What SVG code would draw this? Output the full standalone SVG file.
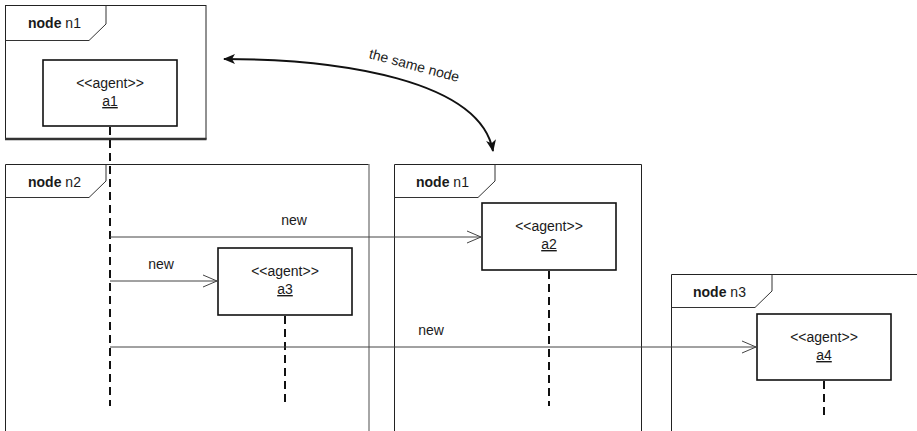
<svg xmlns="http://www.w3.org/2000/svg" width="917" height="431" viewBox="0 0 917 431">
<defs>
<style>
text{font-family:"Liberation Sans",Arial,sans-serif;font-size:14px;fill:#1a1a1a}
.b{font-weight:bold}
.c{text-anchor:middle}
.frame{fill:none;stroke:#222;stroke-width:1}
.tab{fill:none;stroke:#333;stroke-width:1}
.agent{fill:#fff;stroke:#111;stroke-width:1.6}
.life{stroke:#111;stroke-width:2;stroke-dasharray:8 5;fill:none}
.msg{stroke:#444;stroke-width:1;fill:none}
.head{stroke:#444;stroke-width:1;fill:none}
</style>
<marker id="ah" viewBox="0 0 12 10" refX="11" refY="5" markerWidth="12" markerHeight="10" markerUnits="userSpaceOnUse" orient="auto-start-reverse">
<path d="M0,0 L12,5 L0,10 L3,5 Z" fill="#111"/>
</marker>
</defs>

<g id="node-n1-top">
<rect class="frame" x="5.5" y="5.5" width="200.5" height="133.5"/>
<line x1="5" y1="139" x2="206.5" y2="139" stroke="#333" stroke-width="2.5"/>
<path class="tab" d="M5.5,40.5 H89 L106,24 V5.5"/>
<text x="28" y="28"><tspan class="b">node</tspan> n1</text>
</g>

<g id="node-n2">
<path class="frame" d="M5.5,431 V164.5 H369"/>
<line x1="369" y1="164" x2="369" y2="431" stroke="#888" stroke-width="1.5"/>
<path class="tab" d="M5.5,197.5 H89 L106,181 V164.5"/>
<text x="28" y="187"><tspan class="b">node</tspan> n2</text>
</g>

<g id="node-n1-bottom">
<path class="frame" d="M394.5,431 V164.5 H641.5 V431"/>
<path class="tab" d="M394.5,197.5 H478 L495,181 V164.5"/>
<text x="416" y="187"><tspan class="b">node</tspan> n1</text>
</g>

<g id="node-n3">
<path class="frame" d="M671.5,431 V274.5 H917"/>
<path class="tab" d="M671.5,307.5 H755 L772,291 V274.5"/>
<text x="693" y="297"><tspan class="b">node</tspan> n3</text>
</g>

<g id="agent-a1">
<rect class="agent" x="43" y="60" width="134" height="66"/>
<text class="c" x="110" y="88">&lt;&lt;agent&gt;&gt;</text>
<text class="c" x="110" y="106" text-decoration="underline">a1</text>
</g>

<g id="agent-a2">
<rect class="agent" x="482" y="203" width="134" height="67"/>
<text class="c" x="549" y="231">&lt;&lt;agent&gt;&gt;</text>
<text class="c" x="549" y="249" text-decoration="underline">a2</text>
</g>

<g id="agent-a3">
<rect class="agent" x="218" y="248" width="134" height="67"/>
<text class="c" x="285" y="276">&lt;&lt;agent&gt;&gt;</text>
<text class="c" x="285" y="294" text-decoration="underline">a3</text>
</g>

<g id="agent-a4">
<rect class="agent" x="757" y="314" width="134" height="66"/>
<text class="c" x="824" y="342">&lt;&lt;agent&gt;&gt;</text>
<text class="c" x="824" y="360" text-decoration="underline">a4</text>
</g>

<g id="connectors">
<line class="life" x1="110" y1="127" x2="110" y2="406"/>
<line class="life" x1="285" y1="316" x2="285" y2="406"/>
<line class="life" x1="549" y1="271" x2="549" y2="406"/>
<line class="life" x1="824" y1="381" x2="824" y2="419"/>

<line class="msg" x1="110" y1="237" x2="481" y2="237"/>
<path class="head" d="M467,231 L481,237 L467,243"/>
<text class="c" x="294" y="225">new</text>

<line class="msg" x1="110" y1="281" x2="217" y2="281"/>
<path class="head" d="M203,275 L217,281 L203,287"/>
<text class="c" x="161" y="269">new</text>

<line class="msg" x1="110" y1="347" x2="756" y2="347"/>
<path class="head" d="M742,341 L756,347 L742,353"/>
<text class="c" x="431" y="335">new</text>

<path d="M224,59 C340,59 480,80 493,151" fill="none" stroke="#111" stroke-width="2" marker-start="url(#ah)" marker-end="url(#ah)"/>
<text class="c" x="413" y="70" transform="rotate(15 413 70)">the same node</text>
</g>
</svg>
